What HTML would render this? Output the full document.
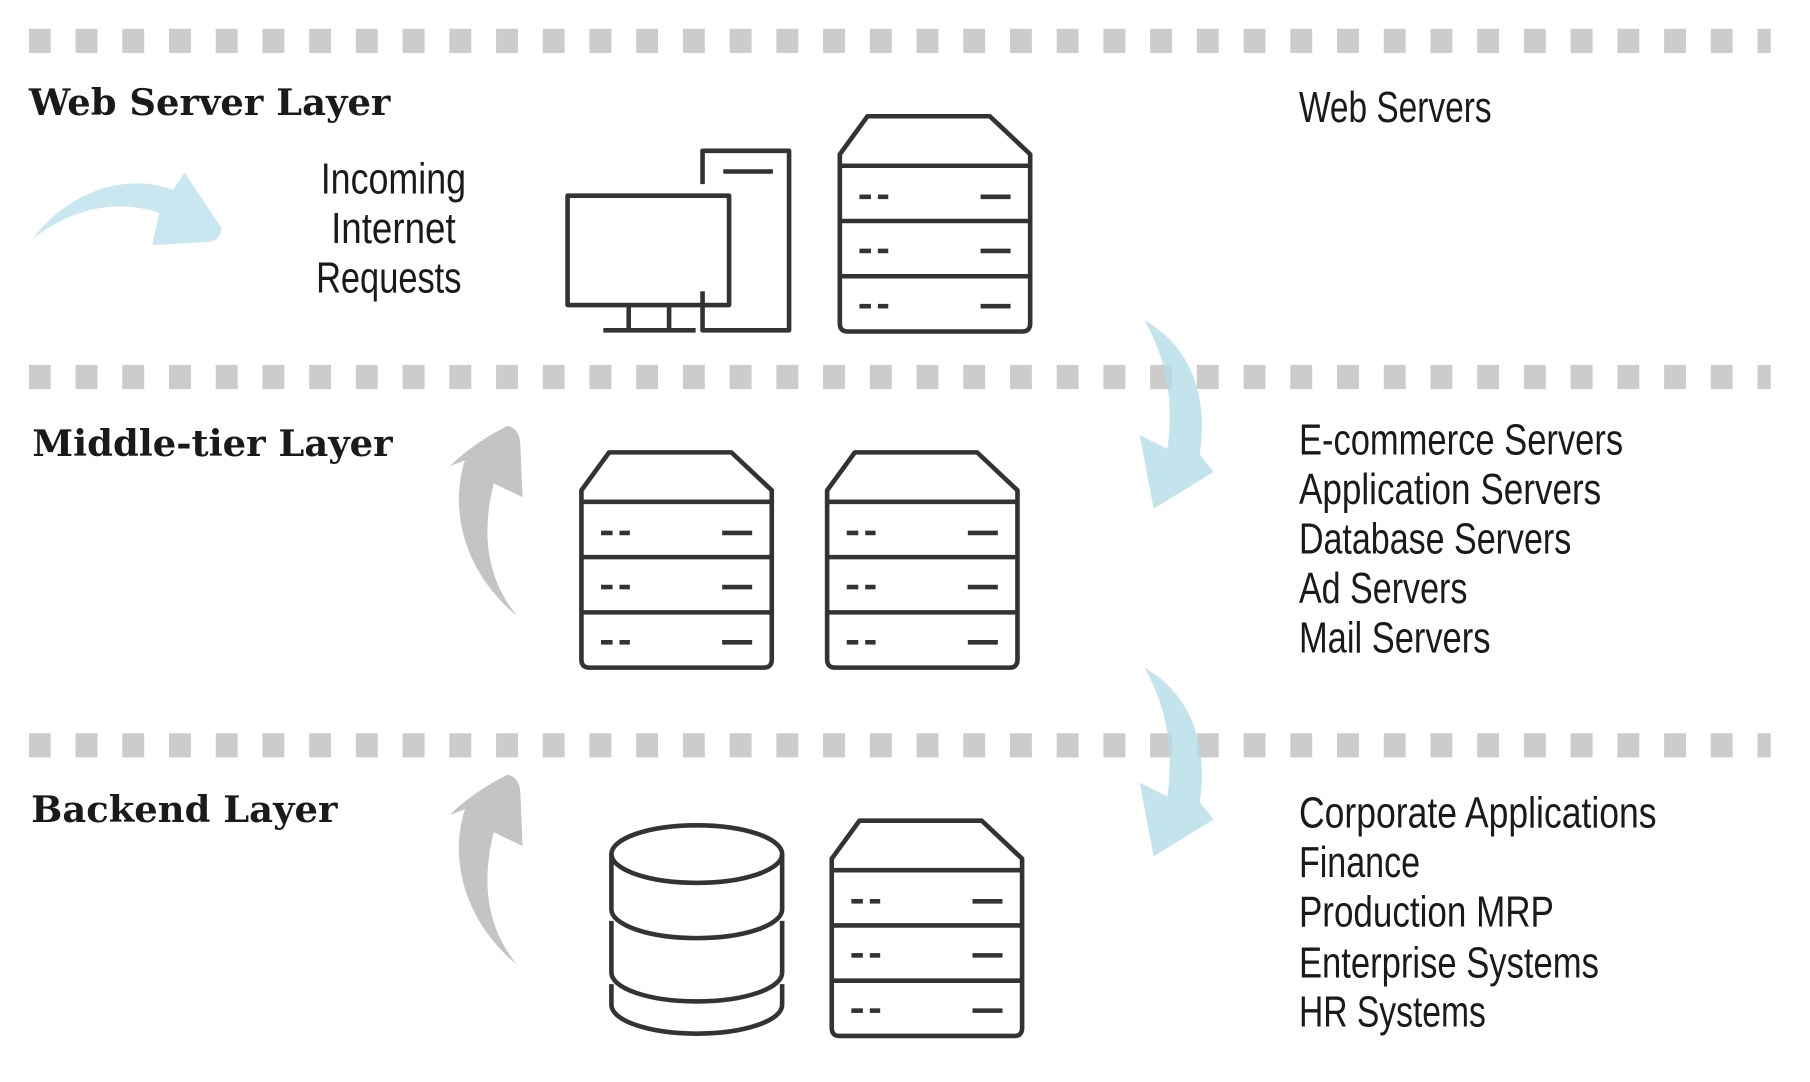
<!DOCTYPE html>
<html><head><meta charset="utf-8"><style>
html,body{margin:0;padding:0;background:#fff;}
svg{display:block;}
.h{font-family:"DejaVu Serif","Liberation Serif",serif;font-weight:bold;font-size:32px;fill:#1a1a1a;}
.t{font-family:"Liberation Sans",sans-serif;font-size:38px;fill:#1a1a1a;}
.ic{fill:none;stroke:#333;stroke-width:4;stroke-linejoin:round;}
</style></head><body>
<svg width="1810" height="1082" viewBox="0 0 1569 940" preserveAspectRatio="none" xmlns="http://www.w3.org/2000/svg">
<defs>
<pattern id="d" x="25" y="0" width="40.5" height="40" patternUnits="userSpaceOnUse">
<rect x="0" y="0" width="19" height="40" fill="#cccccc"/>
</pattern>
<g id="srv">
<path class="ic" d="M24,0 L130,0 L165,33 L165,180 Q165,187 158,187 L7,187 Q0,187 0,180 L0,33 Z"/>
<line class="ic" x1="0" y1="43" x2="165" y2="43"/>
<line class="ic" x1="0" y1="91" x2="165" y2="91"/>
<line class="ic" x1="0" y1="139" x2="165" y2="139"/>
<g stroke="#333" stroke-width="4">
<line x1="17" y1="70" x2="27" y2="70"/><line x1="33" y1="70" x2="42" y2="70"/><line x1="122" y1="70" x2="148" y2="70"/>
<line x1="17" y1="117" x2="27" y2="117"/><line x1="33" y1="117" x2="42" y2="117"/><line x1="122" y1="117" x2="148" y2="117"/>
<line x1="17" y1="165" x2="27" y2="165"/><line x1="33" y1="165" x2="42" y2="165"/><line x1="122" y1="165" x2="148" y2="165"/>
</g>
</g>
</defs>
<rect x="25" y="25" width="1510" height="21" fill="url(#d)"/>
<rect x="25" y="317" width="1510" height="21" fill="url(#d)"/>
<rect x="25" y="637" width="1510" height="21" fill="url(#d)"/>

<text class="h" x="25" y="100">Web Server Layer</text>
<text class="h" x="28" y="396">Middle-tier Layer</text>
<text class="h" x="27" y="714">Backend Layer</text>

<g class="t">
<text x="278" y="168" textLength="126" lengthAdjust="spacingAndGlyphs">Incoming</text>
<text x="287" y="211" textLength="108" lengthAdjust="spacingAndGlyphs">Internet</text>
<text x="274" y="254" textLength="126" lengthAdjust="spacingAndGlyphs">Requests</text>
<text x="1126" y="106" textLength="167" lengthAdjust="spacingAndGlyphs">Web Servers</text>
<text x="1126" y="395" textLength="281" lengthAdjust="spacingAndGlyphs">E-commerce Servers</text>
<text x="1126" y="438" textLength="262" lengthAdjust="spacingAndGlyphs">Application Servers</text>
<text x="1126" y="481" textLength="236" lengthAdjust="spacingAndGlyphs">Database Servers</text>
<text x="1126" y="524" textLength="146" lengthAdjust="spacingAndGlyphs">Ad Servers</text>
<text x="1126" y="567" textLength="166" lengthAdjust="spacingAndGlyphs">Mail Servers</text>
<text x="1126" y="719" textLength="310" lengthAdjust="spacingAndGlyphs">Corporate Applications</text>
<text x="1126" y="762" textLength="105" lengthAdjust="spacingAndGlyphs">Finance</text>
<text x="1126" y="805" textLength="221" lengthAdjust="spacingAndGlyphs">Production MRP</text>
<text x="1126" y="849" textLength="260" lengthAdjust="spacingAndGlyphs">Enterprise Systems</text>
<text x="1126" y="892" textLength="162" lengthAdjust="spacingAndGlyphs">HR Systems</text>
</g>

<!-- computer -->
<g class="ic">
<rect x="492" y="170" width="140" height="95"/>
<line x1="545" y1="265" x2="545" y2="287"/><line x1="580" y1="265" x2="580" y2="287"/>
<line x1="523" y1="287" x2="603" y2="287"/>
<polyline points="609,160 609,131 684,131 684,287 609,287 609,253"/>
<line x1="627" y1="149" x2="670" y2="149"/>
</g>
<use href="#srv" x="728" y="101"/>
<use href="#srv" x="504" y="393"/>
<use href="#srv" x="717" y="393"/>
<use href="#srv" x="721" y="713"/>

<!-- database -->
<g class="ic">
<ellipse cx="604" cy="742" rx="74" ry="25"/>
<path d="M530,742 L530,790 A74,25 0 0 0 678,790 L678,742"/>
<path d="M530,800 L530,845 A74,25 0 0 0 678,845 L678,800"/>
<path d="M530,855 L530,873 A74,25 0 0 0 678,873 L678,855"/>
</g>

<!-- arrows -->
<path fill="#c9e7f0" d="M28,208 C60,165 110,150 150,165 L160,150 L192,198 Q192,208 182,210 L132,213 L138,185 C100,172 60,182 28,208 Z"/>
<path fill="#c4c4c4" d="M448,535 C400,495 390,440 403,400 L390,405 Q410,385 440,370 Q450,372 451,385 L453,432 L428,420 C418,460 420,500 448,535 Z"/>
<path fill="#c4c4c4" d="M448,838 C400,798 390,743 403,703 L390,708 Q410,688 440,673 Q450,675 451,688 L453,735 L428,723 C418,763 420,803 448,838 Z"/>
<path fill="#b5dde9" opacity="0.8" d="M992,278 C1030,300 1048,340 1040,395 L1052,410 L1000,442 L988,378 L1012,390 C1018,345 1010,310 992,278 Z"/>
<path fill="#b5dde9" opacity="0.8" d="M992,580 C1030,602 1048,642 1040,697 L1052,712 L1000,744 L988,680 L1012,692 C1018,647 1010,612 992,580 Z"/>
</svg>
</body></html>
